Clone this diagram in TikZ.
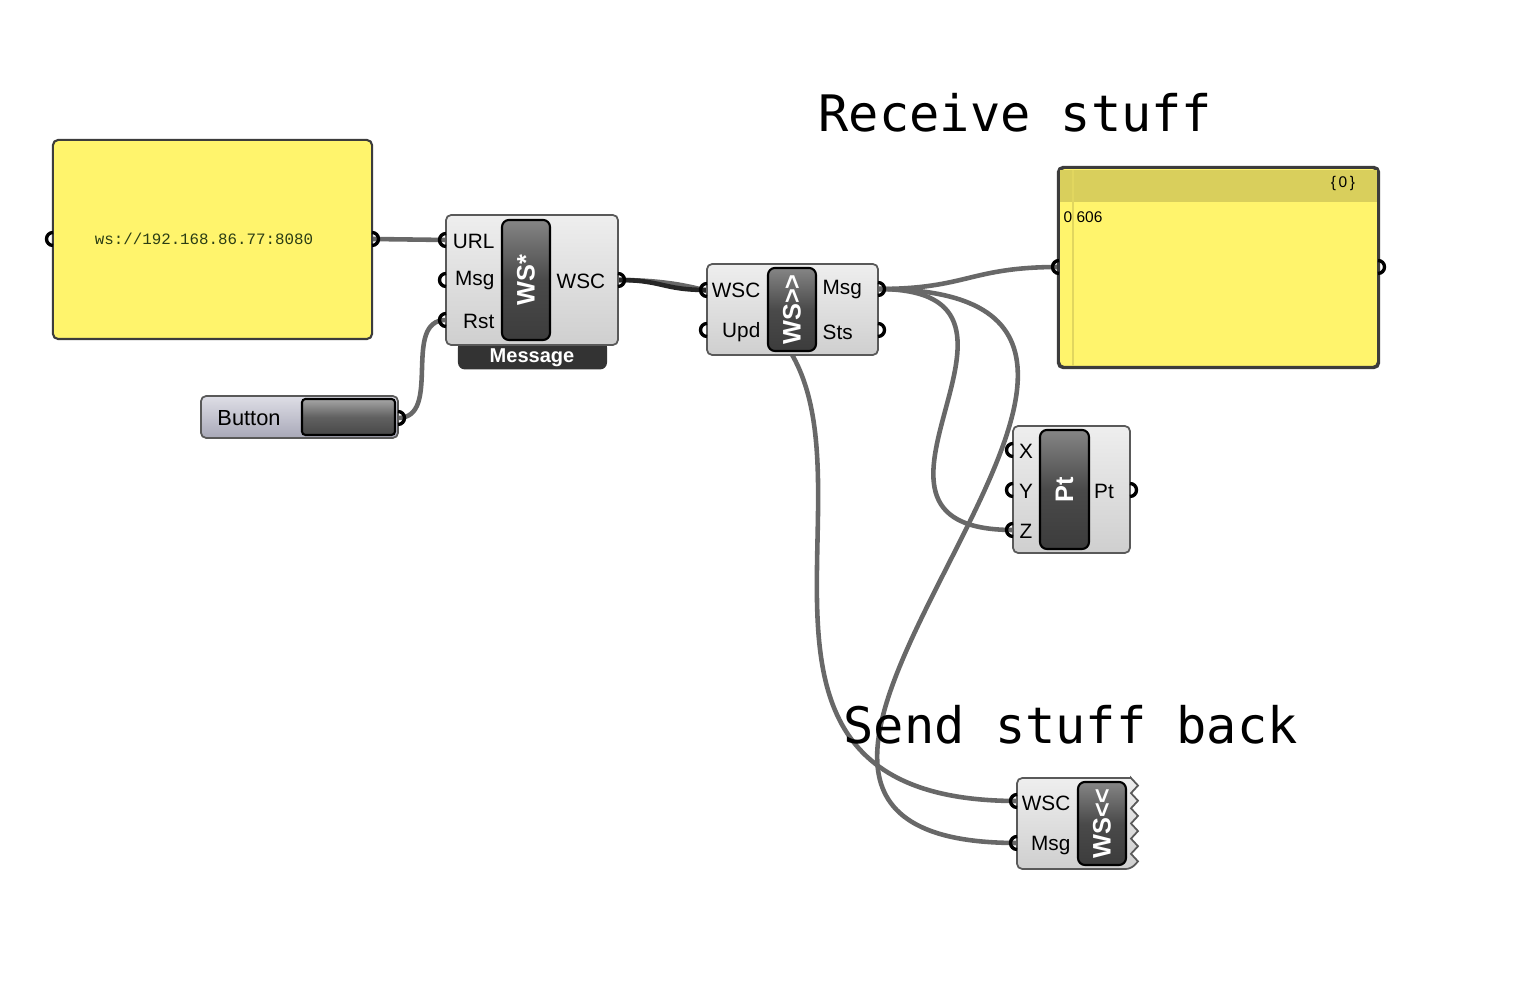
\documentclass[tikz,border=0pt]{standalone}
\usepackage{fontspec}
\setmainfont{Liberation Sans}
\setmonofont{Liberation Mono}
\newfontfamily\titlefont{DejaVu Sans Mono}
\usepackage{tikz}
\definecolor{panelyellow}{HTML}{FFF46C}
\definecolor{headeryellow}{HTML}{D9CF5C}
\definecolor{edgegray}{HTML}{3C3C3C}
\definecolor{bodytop}{HTML}{EEEEEE}
\definecolor{bodybot}{HTML}{CFCFCF}
\definecolor{coretop}{HTML}{858585}
\definecolor{coremid}{HTML}{4A4A4A}
\definecolor{corebot}{HTML}{3C3C3C}
\definecolor{wiregray}{HTML}{686868}
\definecolor{urlgreen}{HTML}{2B3D14}
\definecolor{btntop}{HTML}{DEDEE6}
\definecolor{btnbot}{HTML}{A8A8B8}
\definecolor{tabgray}{HTML}{333333}
\tikzset{lbl/.style={font=\fontsize{5.9}{7}\selectfont,inner sep=0pt}}
\def\gripr{0.065cm}

\begin{document}
\begin{tikzpicture}[x=0.01cm,y=-0.01cm]
    \tikzstyle{panel}=[draw=edgegray,fill=panelyellow,rounded corners=1.5pt,line width=0.6pt,inner sep=0pt]
    \tikzstyle{body}=[draw=edgegray!85,top color=bodytop,bottom color=bodybot,rounded corners=1.5pt,line width=0.5pt,inner sep=0pt]
    \tikzstyle{core}=[draw=black,top color=coretop,bottom color=corebot,middle color=coremid,rounded corners=2pt,line width=0.6pt,inner sep=0pt]
    \tikzstyle{corelabel}=[text=white,font=\bfseries\fontsize{7.2}{8}\selectfont,rotate=90]
    \tikzstyle{wire}=[draw=wiregray,line width=1.3pt]
    \tikzstyle{grip}=[draw=black,line width=0.95pt]
    \tikzstyle{title}=[font=\titlefont\fontsize{14.3}{17}\selectfont,inner sep=0pt,anchor=base west]

    \useasboundingbox[fill=white] (0,0) rectangle (1526,986);

    % Ports on the component edges
    \coordinate (p1-in) at (53,239);
    \coordinate (p1-out) at (372,239);
    \coordinate (btn-out) at (398,418);
    \foreach \name / \y in {url/240,msg/280,rst/320}
        \coordinate (wsa-\name) at (446,\y);
    \coordinate (wsa-wsc) at (618,280);
    \coordinate (wsb-wsc) at (707,290);
    \coordinate (wsb-upd) at (707,330);
    \coordinate (wsb-msg) at (878,289);
    \coordinate (wsb-sts) at (878,330);
    \coordinate (p2-in) at (1059,267);
    \coordinate (p2-out) at (1378,267);
    \foreach \name / \y in {x/450,y/490,z/530}
        \coordinate (pt-\name) at (1013,\y);
    \coordinate (pt-pt) at (1130,490);
    \coordinate (wsc-wsc) at (1017,801);
    \coordinate (wsc-msg) at (1017,843);

    % Wires (under the components)
    \draw[wire] (p1-out) -- (wsa-url);
    \draw[wire] (btn-out) .. controls +(45,0) and +(-45,0) .. (wsa-rst);
    \draw[wire] (wsa-wsc) .. controls +(410,0) and +(-410,0) .. (wsc-wsc);
    \draw[wire,draw=black!85] (wsa-wsc) .. controls +(45,0) and +(-45,0) .. (wsb-wsc);
    \draw[wire] (wsb-msg) .. controls +(90,0) and +(-90,0) .. (p2-in);
    \draw[wire] (wsb-msg) .. controls +(200,0) and +(-200,0) .. (pt-z);
    \draw[wire] (wsb-msg) .. controls +(420,0) and +(-420,0) .. (wsc-msg);

    % Left panel with the address
    \node[panel,minimum width=3.19cm,minimum height=1.99cm] (p1) at (212.5,239.5) {};
    \node[text=urlgreen,font=\ttfamily\fontsize{4.5}{5}\selectfont] (url) at (204,239) {ws://192.168.86.77:8080};

    % Button
    \node[body,top color=btntop,bottom color=btnbot,minimum width=1.97cm,minimum height=0.42cm] (btn) at (299.5,417) {};
    \node[core,top color=black!35,bottom color=black!72,middle color=black!62,rounded corners=1pt,minimum width=0.93cm,minimum height=0.36cm] (btn-knob) at (348.5,417) {};
    \node[lbl,font=\fontsize{6.2}{7}\selectfont] (btn-text) at (249,418) {Button};

    % WS* component
    \node[fill=tabgray,rounded corners=2pt,minimum width=1.49cm,minimum height=0.29cm,inner sep=0pt] (wsa-tab) at (532.5,355) {};
    \node[text=white,font=\bfseries\fontsize{5.7}{7}\selectfont,inner sep=0pt] (wsa-tabtext) at (532,358) {Message};
    \node[body,minimum width=1.72cm,minimum height=1.30cm] (wsa) at (532,280) {};
    \node[core,minimum width=0.48cm,minimum height=1.20cm] (wsa-core) at (526,280) {};
    \node[corelabel] at (wsa-core) {WS*};
    \foreach \name / \y in {URL/241,Msg/281,Rst/321}
        \node[lbl,anchor=east] at (495,\y) {\name};
    \node[lbl,anchor=west] at (556,281) {WSC};

    % WS>> component
    \node[body,minimum width=1.71cm,minimum height=0.91cm] (wsb) at (792.5,309.5) {};
    \node[core,minimum width=0.48cm,minimum height=0.83cm] (wsb-core) at (792,309.5) {};
    \node[corelabel] at (wsb-core) {WS>\kern0pt>};
    \foreach \name / \y in {WSC/290,Upd/332}
        \node[lbl,anchor=east] at (761,\y) {\name};
    \foreach \name / \y in {Msg/290,Sts/332}
        \node[lbl,anchor=west] at (822,\y) {\name};

    % Right panel with the received data
    \node[panel,minimum width=3.19cm,minimum height=1.99cm] (p2) at (1218.5,267.5) {};
    \fill[headeryellow] (1060,170) rectangle (1377,202);
    \draw[headeryellow!80!panelyellow,line width=0.5pt] (1073,170) -- (1073,366);
    \draw[edgegray,line width=0.6pt,rounded corners=1.5pt] (p2.north west) rectangle (p2.south east);
    \node[lbl,font=\fontsize{4.4}{5}\selectfont] (p2-path) at (1343,184) {\{\,0\,\}};
    \node[lbl,font=\fontsize{4.4}{5}\selectfont,anchor=west] (p2-data) at (1063,217) {0 606};

    % Pt component
    \node[body,minimum width=1.17cm,minimum height=1.27cm] (pt) at (1071.5,489.5) {};
    \node[core,minimum width=0.49cm,minimum height=1.19cm] (pt-core) at (1064.5,489.5) {};
    \node[corelabel] at (pt-core) {Pt};
    \foreach \name / \y in {X/451,Y/491,Z/531}
        \node[lbl] at (1026,\y) {\name};
    \node[lbl] at (1104,491) {Pt};

    % WS<< component, zigzag on its right side
    \node[inner sep=0pt,minimum width=1.14cm,minimum height=0.91cm] (wsc) at (1074,823.5) {};
    \path[body] (1131,778) -- (1017,778) -- (1017,869) -- (1131,869) [sharp corners]
        \foreach \i in {1,...,6} { -- (1138,869-15.17*\i+7.58) -- (1131,869-15.17*\i) } -- cycle;
    \node[core,minimum width=0.48cm,minimum height=0.83cm] (wsc-core) at (1102,823.5) {};
    \node[corelabel] at (wsc-core) {WS<\kern0pt<};
    \node[lbl,anchor=east] at (1071,803) {WSC};
    \node[lbl,anchor=east] at (1071,846) {Msg};

    % Grips
    \foreach \p in {p1-in,wsa-url,wsa-msg,wsa-rst,wsb-wsc,wsb-upd,p2-in,pt-x,pt-y,pt-z,wsc-wsc,wsc-msg}
        \draw[grip] (\p) ++(0,-6.5) arc[start angle=90,end angle=270,radius=\gripr];
    \foreach \p in {p1-out,btn-out,wsa-wsc,wsb-msg,wsb-sts,p2-out,pt-pt}
        \draw[grip] (\p) ++(0,-6.5) arc[start angle=90,end angle=-90,radius=\gripr];

    % Titles
    \node[title] (recv) at (818,132) {Receive stuff};
    \node[title] (send) at (843,744) {Send stuff back};
\end{tikzpicture}
\end{document}
